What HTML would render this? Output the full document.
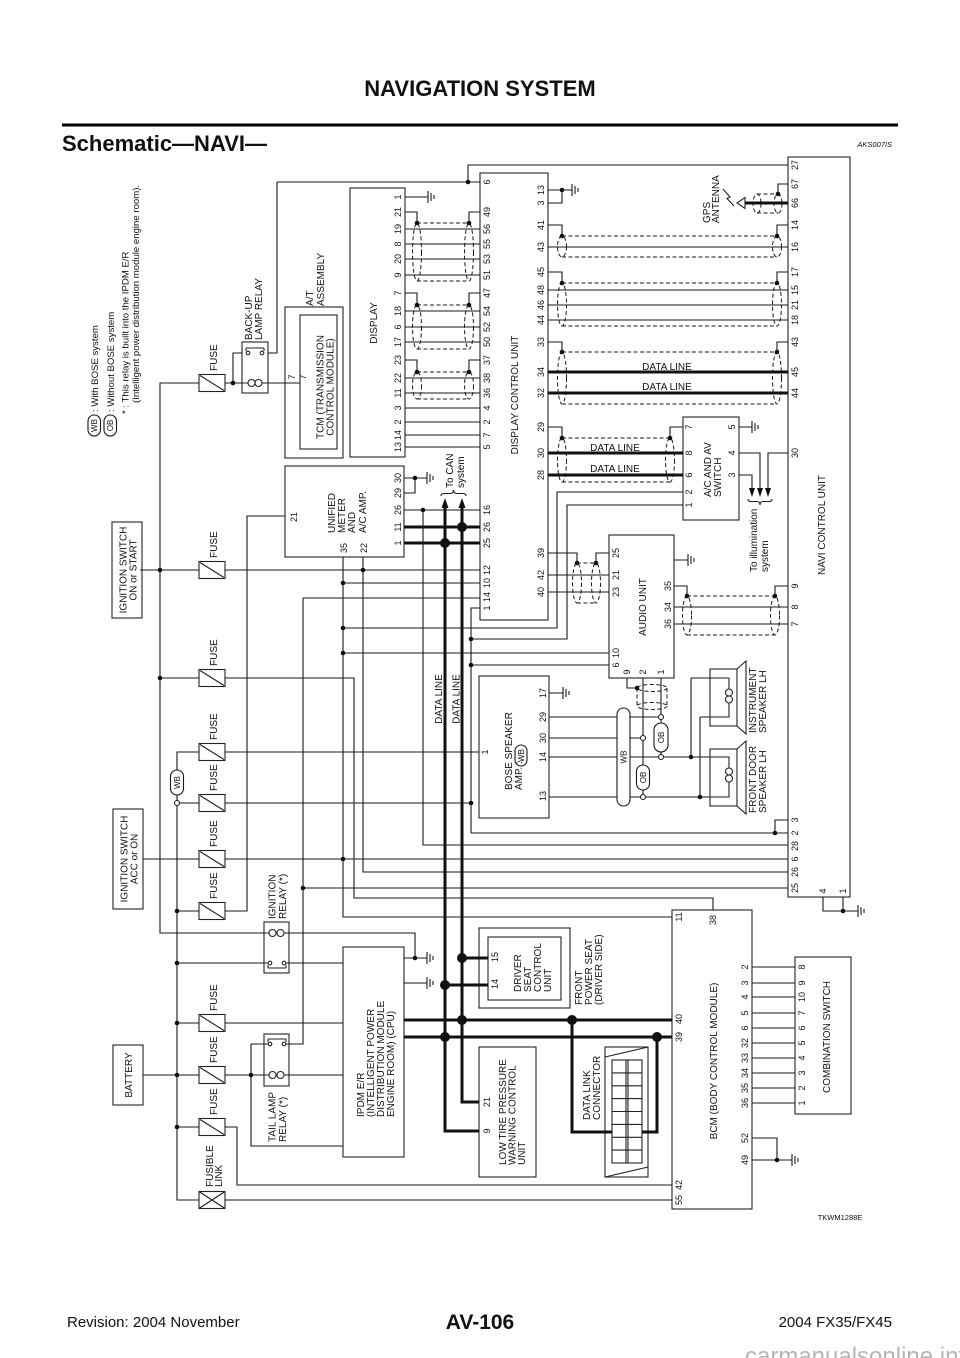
<!DOCTYPE html>
<html><head><meta charset="utf-8"><title>Schematic NAVI</title>
<style>
html,body{margin:0;padding:0;background:#fff;}
svg{display:block;}
text{font-family:"Liberation Sans","DejaVu Sans",sans-serif;fill:#111;}
.p text{font-size:9px;text-anchor:middle;}
.m text{font-size:10px;text-anchor:middle;}
.s text{font-size:10px;text-anchor:start;}
.g text{font-size:9.6px;text-anchor:start;}
.o text{font-size:8px;text-anchor:middle;}
</style></head>
<body>
<svg width="960" height="1358" viewBox="0 0 960 1358" xmlns="http://www.w3.org/2000/svg">
<rect x="0" y="0" width="960" height="1358" fill="#fff"/>

<!-- header / footer -->
<text x="480" y="96" font-size="22" font-weight="bold" text-anchor="middle">NAVIGATION SYSTEM</text>
<rect x="62" y="123.5" width="836" height="3" fill="#000"/>
<text x="62" y="151" font-size="22" font-weight="bold">Schematic—NAVI—</text>
<text x="892" y="147" font-size="7.5" font-style="italic" text-anchor="end">AKS007IS</text>
<text x="840" y="1220" font-size="7.5" text-anchor="middle">TKWM1288E</text>
<text x="67" y="1327" font-size="15">Revision: 2004 November</text>
<text x="480" y="1329" font-size="21" font-weight="bold" text-anchor="middle">AV-106</text>
<text x="892" y="1327" font-size="15" text-anchor="end">2004 FX35/FX45</text>
<text x="745" y="1364" font-size="24" style="fill:#b5b5b5">carmanualsonline.info</text>

<!-- boxes -->
<g fill="none" stroke="#222" stroke-width="1.1">
<rect x="788" y="157" width="62" height="740"/>
<rect x="480" y="173" width="68" height="447"/>
<rect x="350" y="188" width="55" height="269"/>
<rect x="285" y="307" width="58" height="151"/>
<rect x="300" y="315" width="37" height="134"/>
<rect x="242" y="342" width="26" height="51"/>
<rect x="285" y="466" width="119" height="91"/>
<rect x="683" y="417" width="56" height="103"/>
<rect x="609" y="535" width="65" height="143"/>
<rect x="479" y="676" width="70" height="142"/>
<rect x="264" y="922" width="25" height="51"/>
<rect x="264" y="1034" width="25" height="52"/>
<rect x="343" y="947" width="61" height="210"/>
<rect x="479" y="928" width="91" height="80"/>
<rect x="488" y="937" width="73" height="63"/>
<rect x="479" y="1047" width="57" height="130"/>
<rect x="605" y="1047" width="43" height="130"/>
<rect x="612" y="1060" width="30" height="103"/>
<rect x="672" y="910" width="80" height="299"/>
<rect x="795" y="957" width="56" height="157"/>
<rect x="112" y="522" width="30" height="96"/>
<rect x="113" y="809" width="30" height="100"/>
<rect x="113" y="1045" width="30" height="60"/>
<!-- data link connector details -->
<path d="M605,1057L648,1047M605,1177L648,1167M626,1060V1163M628,1060V1163M612,1072.9H642M612,1085.8H642M612,1098.6H642M612,1111.5H642M612,1124.4H642M612,1137.3H642M612,1150.1H642"/>
<!-- speakers -->
<rect x="710" y="669" width="27" height="57"/>
<path d="M737,669L746,661V734L737,726"/>
<rect x="710" y="749" width="27" height="57"/>
<path d="M737,749L746,741V814L737,806"/>
<path d="M710,678H729V689M729,703V717H710M710,757H729V768M729,782V797H710"/>
<circle cx="729" cy="692.5" r="3.5"/><circle cx="729" cy="699.5" r="3.5"/>
<circle cx="729" cy="771.5" r="3.5"/><circle cx="729" cy="778.5" r="3.5"/>
<!-- relays -->
<path d="M242,383H248M262,383H268M246,348H264M246,348V351M264,348V351"/>
<circle cx="251.5" cy="383" r="3.5"/><circle cx="258.5" cy="383" r="3.5"/>
<circle cx="248" cy="353" r="1.8"/><circle cx="262" cy="353" r="1.8"/>
<path d="M264,933H269M284,933H289M268,968H286M268,968V965M286,968V965M264,963H268M286,963H289"/>
<circle cx="272.5" cy="933" r="3.5"/><circle cx="280.5" cy="933" r="3.5"/>
<circle cx="270" cy="963" r="1.8"/><circle cx="284" cy="963" r="1.8"/>
<path d="M264,1075H269M284,1075H289M268,1039H286M268,1039V1042M286,1039V1042M264,1044H268M286,1044H289"/>
<circle cx="272.5" cy="1075" r="3.5"/><circle cx="280.5" cy="1075" r="3.5"/>
<circle cx="270" cy="1044" r="1.8"/><circle cx="284" cy="1044" r="1.8"/>
<!-- fuses -->
<rect x="199" y="374.5" width="26" height="17"/><rect x="199" y="561.5" width="26" height="17"/>
<rect x="199" y="669.5" width="26" height="17"/><rect x="199" y="743.5" width="26" height="17"/>
<rect x="199" y="794.5" width="26" height="17"/><rect x="199" y="850.5" width="26" height="17"/>
<rect x="199" y="902.5" width="26" height="17"/><rect x="199" y="1014.5" width="26" height="17"/>
<rect x="199" y="1066.5" width="26" height="17"/><rect x="199" y="1118.5" width="26" height="17"/>
<rect x="199" y="1191.5" width="26" height="17"/>
<path d="M200,375.5L224,390.5M200,562.5L224,577.5M200,670.5L224,685.5M200,744.5L224,759.5M200,795.5L224,810.5M200,851.5L224,866.5M200,903.5L224,918.5M200,1015.5L224,1030.5M200,1067.5L224,1082.5M200,1119.5L224,1134.5M199,1191.5L225,1208.5M225,1191.5L199,1208.5"/>
<!-- antenna -->
<polygon points="737,203 745,197.5 745,208.5"/>
<path d="M723,189L730,197L727,198.5L734,206"/>
</g>

<!-- thin wires -->
<g fill="none" stroke="#1a1a1a" stroke-width="1.1">
<path d="M468,182V165H788M277,182H480M277,182V353H268M225,383H242M233,383V353H242M268,383H300M405,197H428
M405,229H480M405,244H480M405,259H480M405,275H480M405,311H480M405,327H480M405,342H480M405,378H480M405,393H480M405,408H480M405,422H480M405,435H480M405,447H480
M405,212H417V223M480,212H469V223M405,293H417V305M480,293H469V305M405,360H417V372M480,360H469V372
M548,190H572M548,203H562V190M548,225H562V236M788,225H777V236M548,247H788M548,272H562V283M788,272H777V283
M548,290H788M548,305H788M548,320H788M548,342H562V352M788,342H777V352M548,427H562V438M683,427H670V438
M739,427H752M739,453H760V489M739,475H752V489M788,453H768V489M788,184H778V194
M548,553H577V563M609,553H596V563M548,575H609M548,592H609M674,560H688
M674,586H687V596M788,586H775V596M674,607H788M674,624H788
M627,678V688H637M643,678V735.5M643,740.5V765M643,790V794.5M661,678V714.5M661,719.5V723M661,752V754.5
M549,693H563M549,717H658.5M549,738H640.5M549,757H658.5M663.5,757H710M549,797H640.5M645.5,797H710
M691,678V757M691,678H710M700,717V797M700,717H710M225,752H479
M788,820H775V833M471,833H788M423,510V845H788M225,859H788M363,557V872H788M303,888H788
M823,897V911H858M843,897V911M404,478H427M404,493H415V478M404,510H480
M285,516H247V911H225M343,557V917H672M225,570H480M343,583H480M225,678H354V898H713V910
M303,598H480M303,598V1044H289M480,608H471V833M343,628H557V492H683M471,639H567V505H683
M343,653H609M471,665H609M225,803H471
M199,383H160V933H264M140,570H199M160,678H199M143,859H199
M199,752H177V770M177,795V800.5M177,805.5V1200H199M179.5,803H199
M177,911H199M177,963H264M289,963H343M177,1023H199M225,1023H343
M143,1075H199M225,1075H264M251,1044V1146H343M251,1044H264M289,1075H343
M177,1127H199M225,1127H237V1185H672M225,1200H672M289,933H415V958M404,958H427M404,983H427
M752,967H795M752,983H795M752,997H795M752,1013H795M752,1028H795M752,1043H795M752,1058H795M752,1073H795M752,1088H795M752,1103H795
M752,1138H777V1160M752,1160H792"/>
<!-- grounds -->
<path d="M428,191V203M431,193V201M434,195V199M572,184V196M575,186V194M578,188V192M752,421V433M755,423V431M758,425V429M688,554V566M691,556V564M694,558V562M563,687V699M566,689V697M569,691V695M427,472V484M430,474V482M433,476V480M858,905V917M861,907V915M864,909V913M427,952V964M430,954V962M433,956V960M427,977V989M430,979V987M433,981V985M792,1154V1166M795,1156V1164M798,1158V1162"/>
<!-- braces -->
<path d="M441,496Q441,493.5 444,493.5H450Q453.5,493.5 453.5,490Q453.5,493.5 457,493.5H463Q466,493.5 466,496"/>
<path d="M748,499Q748,501.5 751,501.5H757Q760,501.5 760,505Q760,501.5 763,501.5H769Q772,501.5 772,499"/>
</g>

<!-- shields -->
<g fill="none" stroke="#1a1a1a" stroke-width="1" stroke-dasharray="4 2.5">
<path d="M417,223H469M417,281H469M417,305H469M417,349H469M417,372H469M417,399H469M562,236H777M562,257H777M562,283H777M562,326H777M562,352H777M562,404H777M562,438H670M562,482H670M757,194H778M757,213H778M577,563H596M577,603H596M687,596H775M687,635H775M637,688V706M667,688V706"/>
<ellipse cx="417" cy="252" rx="4.5" ry="29"/><ellipse cx="469" cy="252" rx="4.5" ry="29"/>
<ellipse cx="417" cy="327" rx="4.5" ry="22"/><ellipse cx="469" cy="327" rx="4.5" ry="22"/>
<ellipse cx="417" cy="385.5" rx="4.5" ry="13.5"/><ellipse cx="469" cy="385.5" rx="4.5" ry="13.5"/>
<ellipse cx="562" cy="246.5" rx="4.5" ry="10.5"/><ellipse cx="777" cy="246.5" rx="4.5" ry="10.5"/>
<ellipse cx="562" cy="304.5" rx="4.5" ry="21.5"/><ellipse cx="777" cy="304.5" rx="4.5" ry="21.5"/>
<ellipse cx="562" cy="378" rx="4.5" ry="26"/><ellipse cx="777" cy="378" rx="4.5" ry="26"/>
<ellipse cx="562" cy="460" rx="4.5" ry="22"/><ellipse cx="670" cy="460" rx="4.5" ry="22"/>
<ellipse cx="757" cy="203.5" rx="4" ry="9.5"/><ellipse cx="778" cy="203.5" rx="4" ry="9.5"/>
<ellipse cx="577" cy="583" rx="4.5" ry="20"/><ellipse cx="596" cy="583" rx="4.5" ry="20"/>
<ellipse cx="687" cy="615.5" rx="4.5" ry="19.5"/><ellipse cx="775" cy="615.5" rx="4.5" ry="19.5"/>
<ellipse cx="652" cy="688" rx="15" ry="3.5"/><ellipse cx="652" cy="706" rx="15" ry="3.5"/>
</g>

<!-- thick data lines -->
<g fill="none" stroke="#111" stroke-width="3">
<path d="M548,372H788M548,393H788M548,453H683M548,475H683M745,203H788M404,527H480M404,543H480
M445,506V1131H479M462,506V1102H479M404,1020H672M404,1037H672M462,958H488M445,985H488
M572,1020V1132H612M657,1037V1132H642"/>
</g>
<g fill="#111">
<polygon points="445,498 441.5,508 448.5,508"/><polygon points="462,498 458.5,508 465.5,508"/>
<polygon points="752,497 749,488 755,488"/><polygon points="760,497 757,488 763,488"/><polygon points="768,497 765,488 771,488"/>
<circle cx="462" cy="527" r="5"/><circle cx="445" cy="543" r="5"/><circle cx="462" cy="958" r="5"/><circle cx="445" cy="985" r="5"/>
<circle cx="462" cy="1020" r="5"/><circle cx="445" cy="1037" r="5"/><circle cx="572" cy="1020" r="5"/><circle cx="657" cy="1037" r="5"/>
<circle cx="468" cy="182" r="2.3"/><circle cx="233" cy="383" r="2.3"/><circle cx="417" cy="223" r="2.3"/><circle cx="469" cy="223" r="2.3"/>
<circle cx="417" cy="305" r="2.3"/><circle cx="469" cy="305" r="2.3"/><circle cx="417" cy="372" r="2.3"/><circle cx="469" cy="372" r="2.3"/>
<circle cx="562" cy="190" r="2.3"/><circle cx="562" cy="236" r="2.3"/><circle cx="777" cy="236" r="2.3"/><circle cx="562" cy="283" r="2.3"/>
<circle cx="777" cy="283" r="2.3"/><circle cx="562" cy="352" r="2.3"/><circle cx="777" cy="352" r="2.3"/><circle cx="562" cy="438" r="2.3"/>
<circle cx="670" cy="438" r="2.3"/><circle cx="778" cy="194" r="2.3"/><circle cx="577" cy="563" r="2.3"/><circle cx="596" cy="563" r="2.3"/>
<circle cx="687" cy="596" r="2.3"/><circle cx="775" cy="596" r="2.3"/><circle cx="637" cy="688" r="2.3"/><circle cx="691" cy="757" r="2.3"/>
<circle cx="700" cy="797" r="2.3"/><circle cx="775" cy="833" r="2.3"/><circle cx="843" cy="911" r="2.3"/><circle cx="415" cy="478" r="2.3"/>
<circle cx="423" cy="510" r="2.3"/><circle cx="363" cy="570" r="2.3"/><circle cx="343" cy="583" r="2.3"/><circle cx="343" cy="628" r="2.3"/>
<circle cx="343" cy="653" r="2.3"/><circle cx="471" cy="639" r="2.3"/><circle cx="471" cy="665" r="2.3"/><circle cx="471" cy="803" r="2.3"/>
<circle cx="343" cy="859" r="2.3"/><circle cx="303" cy="888" r="2.3"/><circle cx="160" cy="570" r="2.3"/><circle cx="160" cy="678" r="2.3"/>
<circle cx="177" cy="911" r="2.3"/><circle cx="177" cy="963" r="2.3"/><circle cx="177" cy="1023" r="2.3"/><circle cx="177" cy="1075" r="2.3"/>
<circle cx="177" cy="1127" r="2.3"/><circle cx="251" cy="1075" r="2.3"/><circle cx="415" cy="958" r="2.3"/><circle cx="777" cy="1160" r="2.3"/>
</g>

<!-- ovals and open circles -->
<g fill="#fff" stroke="#1a1a1a" stroke-width="1.1">
<rect x="88" y="415" width="12.5" height="21" rx="6.2"/>
<rect x="104" y="415" width="12.5" height="21" rx="6.2"/>
<rect x="170.5" y="770" width="13" height="25" rx="6.5"/>
<rect x="515" y="745" width="12" height="21" rx="6"/>
<rect x="617" y="708" width="13" height="98" rx="6.5"/>
<rect x="654" y="723" width="14" height="29" rx="7"/>
<rect x="636.5" y="765" width="13" height="25" rx="6.5"/>
<circle cx="177" cy="803" r="2.5"/><circle cx="661" cy="717" r="2.5"/><circle cx="643" cy="738" r="2.5"/>
<circle cx="661" cy="757" r="2.5"/><circle cx="643" cy="797" r="2.5"/>
</g>
<g class="o">
<text transform="rotate(-90 97 425.5)" x="97" y="425.5">WB</text>
<text transform="rotate(-90 113 425.5)" x="113" y="425.5">OB</text>
<text transform="rotate(-90 179.8 782.5)" x="179.8" y="782.5">WB</text>
<text transform="rotate(-90 523.8 755.5)" x="523.8" y="755.5">WB</text>
<text transform="rotate(-90 626.5 757)" x="626.5" y="757">WB</text>
<text transform="rotate(-90 663.8 737.5)" x="663.8" y="737.5">OB</text>
<text transform="rotate(-90 645.8 777.5)" x="645.8" y="777.5">OB</text>
</g>

<!-- legend -->
<g class="g">
<text transform="rotate(-90 98 412)" x="98" y="412">: With BOSE system</text>
<text transform="rotate(-90 114 412)" x="114" y="412">: Without BOSE system</text>
<text transform="rotate(-90 128.5 414)" x="128.5" y="414">* : This relay is built into the IPDM E/R</text>
<text transform="rotate(-90 139 403)" x="139" y="403">(Intelligent power distribution module engine room).</text>
</g>

<!-- start-anchored labels -->
<g class="s">
<text transform="rotate(-90 252 340)" x="252" y="340">BACK-UP</text>
<text transform="rotate(-90 262 340)" x="262" y="340">LAMP RELAY</text>
<text transform="rotate(-90 313 306)" x="313" y="306">A/T</text>
<text transform="rotate(-90 324 306)" x="324" y="306">ASSEMBLY</text>
<text transform="rotate(-90 335 533)" x="335" y="533">UNIFIED</text>
<text transform="rotate(-90 345 533)" x="345" y="533">METER</text>
<text transform="rotate(-90 355 533)" x="355" y="533">AND</text>
<text transform="rotate(-90 366 533)" x="366" y="533">A/C AMP.</text>
<text transform="rotate(-90 453 488)" x="453" y="488">To CAN</text>
<text transform="rotate(-90 464 488)" x="464" y="488">system</text>
<text transform="rotate(-90 711 497)" x="711" y="497">A/C AND AV</text>
<text transform="rotate(-90 721 497)" x="721" y="497">SWITCH</text>
<text transform="rotate(-90 710 223)" x="710" y="223">GPS</text>
<text transform="rotate(-90 719 223)" x="719" y="223">ANTENNA</text>
<text transform="rotate(-90 757 572)" x="757" y="572">To illumination</text>
<text transform="rotate(-90 768 572)" x="768" y="572">system</text>
<text transform="rotate(-90 512 790)" x="512" y="790">BOSE SPEAKER</text>
<text transform="rotate(-90 522 790)" x="522" y="790">AMP. :</text>
<text transform="rotate(-90 756 733)" x="756" y="733">INSTRUMENT</text>
<text transform="rotate(-90 766 733)" x="766" y="733">SPEAKER LH</text>
<text transform="rotate(-90 756 813)" x="756" y="813">FRONT DOOR</text>
<text transform="rotate(-90 766 813)" x="766" y="813">SPEAKER LH</text>
<text transform="rotate(-90 275.5 919)" x="275.5" y="919">IGNITION</text>
<text transform="rotate(-90 286 919)" x="286" y="919">RELAY (*)</text>
<text transform="rotate(-90 275.5 1142)" x="275.5" y="1142">TAIL LAMP</text>
<text transform="rotate(-90 286 1142)" x="286" y="1142">RELAY (*)</text>
<text transform="rotate(-90 364 1117)" x="364" y="1117">IPDM E/R</text>
<text transform="rotate(-90 374 1117)" x="374" y="1117">(INTELLIGENT POWER</text>
<text transform="rotate(-90 384 1117)" x="384" y="1117">DISTRIBUTION MODULE</text>
<text transform="rotate(-90 394 1117)" x="394" y="1117">ENGINE ROOM) (CPU)</text>
<text transform="rotate(-90 213 1187)" x="213" y="1187">FUSIBLE</text>
<text transform="rotate(-90 222 1187)" x="222" y="1187">LINK</text>
<text transform="rotate(-90 506 1165)" x="506" y="1165">LOW TIRE PRESSURE</text>
<text transform="rotate(-90 515.5 1165)" x="515.5" y="1165">WARNING CONTROL</text>
<text transform="rotate(-90 525 1165)" x="525" y="1165">UNIT</text>
<text transform="rotate(-90 521 992)" x="521" y="992">DRIVER</text>
<text transform="rotate(-90 531 992)" x="531" y="992">SEAT</text>
<text transform="rotate(-90 541 992)" x="541" y="992">CONTROL</text>
<text transform="rotate(-90 551 992)" x="551" y="992">UNIT</text>
<text transform="rotate(-90 582 1005)" x="582" y="1005">FRONT</text>
<text transform="rotate(-90 592 1005)" x="592" y="1005">POWER SEAT</text>
<text transform="rotate(-90 602 1005)" x="602" y="1005">(DRIVER SIDE)</text>
<text transform="rotate(-90 590 1120)" x="590" y="1120">DATA LINK</text>
<text transform="rotate(-90 600 1120)" x="600" y="1120">CONNECTOR</text>
<text transform="rotate(-90 217 371)" x="217" y="371">FUSE</text>
<text transform="rotate(-90 217 558)" x="217" y="558">FUSE</text>
<text transform="rotate(-90 217 666)" x="217" y="666">FUSE</text>
<text transform="rotate(-90 217 740)" x="217" y="740">FUSE</text>
<text transform="rotate(-90 217 791)" x="217" y="791">FUSE</text>
<text transform="rotate(-90 217 847)" x="217" y="847">FUSE</text>
<text transform="rotate(-90 217 899)" x="217" y="899">FUSE</text>
<text transform="rotate(-90 217 1011)" x="217" y="1011">FUSE</text>
<text transform="rotate(-90 217 1063)" x="217" y="1063">FUSE</text>
<text transform="rotate(-90 217 1115)" x="217" y="1115">FUSE</text>
</g>

<!-- centered labels -->
<g class="m">
<text transform="rotate(-90 377 323)" x="377" y="323">DISPLAY</text>
<text transform="rotate(-90 323.5 387)" x="323.5" y="387">TCM (TRANSMISSION</text>
<text transform="rotate(-90 333.5 387)" x="333.5" y="387">CONTROL MODULE)</text>
<text transform="rotate(-90 518 395)" x="518" y="395">DISPLAY CONTROL UNIT</text>
<text transform="rotate(-90 825 525)" x="825" y="525">NAVI CONTROL UNIT</text>
<text transform="rotate(-90 646 607)" x="646" y="607">AUDIO UNIT</text>
<text transform="rotate(-90 442 699)" x="442" y="699">DATA LINE</text>
<text transform="rotate(-90 459.5 699)" x="459.5" y="699">DATA LINE</text>
<text transform="rotate(-90 717 1061)" x="717" y="1061">BCM (BODY CONTROL MODULE)</text>
<text transform="rotate(-90 830 1037)" x="830" y="1037">COMBINATION SWITCH</text>
<text transform="rotate(-90 126.5 570)" x="126.5" y="570">IGNITION SWITCH</text>
<text transform="rotate(-90 136.5 570)" x="136.5" y="570">ON or START</text>
<text transform="rotate(-90 127.5 859)" x="127.5" y="859">IGNITION SWITCH</text>
<text transform="rotate(-90 137.5 859)" x="137.5" y="859">ACC or ON</text>
<text transform="rotate(-90 132 1075)" x="132" y="1075">BATTERY</text>
<text x="667" y="370">DATA LINE</text>
<text x="667" y="390">DATA LINE</text>
<text x="615" y="451">DATA LINE</text>
<text x="615" y="472">DATA LINE</text>
</g>

<!-- pin numbers -->
<g class="p">
<!-- display -->
<text transform="rotate(-90 401 197)" x="401" y="197">1</text>
<text transform="rotate(-90 401 212)" x="401" y="212">21</text>
<text transform="rotate(-90 401 229)" x="401" y="229">19</text>
<text transform="rotate(-90 401 244)" x="401" y="244">8</text>
<text transform="rotate(-90 401 259)" x="401" y="259">20</text>
<text transform="rotate(-90 401 275)" x="401" y="275">9</text>
<text transform="rotate(-90 401 293)" x="401" y="293">7</text>
<text transform="rotate(-90 401 311)" x="401" y="311">18</text>
<text transform="rotate(-90 401 327)" x="401" y="327">6</text>
<text transform="rotate(-90 401 342)" x="401" y="342">17</text>
<text transform="rotate(-90 401 360)" x="401" y="360">23</text>
<text transform="rotate(-90 401 378)" x="401" y="378">22</text>
<text transform="rotate(-90 401 393)" x="401" y="393">11</text>
<text transform="rotate(-90 401 408)" x="401" y="408">3</text>
<text transform="rotate(-90 401 422)" x="401" y="422">2</text>
<text transform="rotate(-90 401 435)" x="401" y="435">14</text>
<text transform="rotate(-90 401 447)" x="401" y="447">13</text>
<!-- DCU left -->
<text transform="rotate(-90 490 182)" x="490" y="182">6</text>
<text transform="rotate(-90 490 212)" x="490" y="212">49</text>
<text transform="rotate(-90 490 229)" x="490" y="229">56</text>
<text transform="rotate(-90 490 244)" x="490" y="244">55</text>
<text transform="rotate(-90 490 259)" x="490" y="259">53</text>
<text transform="rotate(-90 490 275)" x="490" y="275">51</text>
<text transform="rotate(-90 490 293)" x="490" y="293">47</text>
<text transform="rotate(-90 490 311)" x="490" y="311">54</text>
<text transform="rotate(-90 490 327)" x="490" y="327">52</text>
<text transform="rotate(-90 490 342)" x="490" y="342">50</text>
<text transform="rotate(-90 490 360)" x="490" y="360">37</text>
<text transform="rotate(-90 490 378)" x="490" y="378">38</text>
<text transform="rotate(-90 490 393)" x="490" y="393">36</text>
<text transform="rotate(-90 490 408)" x="490" y="408">4</text>
<text transform="rotate(-90 490 422)" x="490" y="422">2</text>
<text transform="rotate(-90 490 435)" x="490" y="435">7</text>
<text transform="rotate(-90 490 447)" x="490" y="447">5</text>
<text transform="rotate(-90 490 510)" x="490" y="510">16</text>
<text transform="rotate(-90 490 527)" x="490" y="527">26</text>
<text transform="rotate(-90 490 543)" x="490" y="543">25</text>
<text transform="rotate(-90 490 570)" x="490" y="570">12</text>
<text transform="rotate(-90 490 583)" x="490" y="583">10</text>
<text transform="rotate(-90 490 597)" x="490" y="597">14</text>
<text transform="rotate(-90 490 608)" x="490" y="608">1</text>
<!-- DCU right -->
<text transform="rotate(-90 544 190)" x="544" y="190">13</text>
<text transform="rotate(-90 544 203)" x="544" y="203">3</text>
<text transform="rotate(-90 544 225)" x="544" y="225">41</text>
<text transform="rotate(-90 544 247)" x="544" y="247">43</text>
<text transform="rotate(-90 544 272)" x="544" y="272">45</text>
<text transform="rotate(-90 544 290)" x="544" y="290">48</text>
<text transform="rotate(-90 544 305)" x="544" y="305">46</text>
<text transform="rotate(-90 544 320)" x="544" y="320">44</text>
<text transform="rotate(-90 544 342)" x="544" y="342">33</text>
<text transform="rotate(-90 544 372)" x="544" y="372">34</text>
<text transform="rotate(-90 544 393)" x="544" y="393">32</text>
<text transform="rotate(-90 544 427)" x="544" y="427">29</text>
<text transform="rotate(-90 544 453)" x="544" y="453">30</text>
<text transform="rotate(-90 544 475)" x="544" y="475">28</text>
<text transform="rotate(-90 544 553)" x="544" y="553">39</text>
<text transform="rotate(-90 544 575)" x="544" y="575">42</text>
<text transform="rotate(-90 544 592)" x="544" y="592">40</text>
<!-- NAVI -->
<text transform="rotate(-90 798 165)" x="798" y="165">27</text>
<text transform="rotate(-90 798 184)" x="798" y="184">67</text>
<text transform="rotate(-90 798 203)" x="798" y="203">66</text>
<text transform="rotate(-90 798 225)" x="798" y="225">14</text>
<text transform="rotate(-90 798 247)" x="798" y="247">16</text>
<text transform="rotate(-90 798 272)" x="798" y="272">17</text>
<text transform="rotate(-90 798 290)" x="798" y="290">15</text>
<text transform="rotate(-90 798 305)" x="798" y="305">21</text>
<text transform="rotate(-90 798 320)" x="798" y="320">18</text>
<text transform="rotate(-90 798 342)" x="798" y="342">43</text>
<text transform="rotate(-90 798 372)" x="798" y="372">45</text>
<text transform="rotate(-90 798 393)" x="798" y="393">44</text>
<text transform="rotate(-90 798 453)" x="798" y="453">30</text>
<text transform="rotate(-90 798 586)" x="798" y="586">9</text>
<text transform="rotate(-90 798 607)" x="798" y="607">8</text>
<text transform="rotate(-90 798 624)" x="798" y="624">7</text>
<text transform="rotate(-90 798 820)" x="798" y="820">3</text>
<text transform="rotate(-90 798 833)" x="798" y="833">2</text>
<text transform="rotate(-90 798 846)" x="798" y="846">28</text>
<text transform="rotate(-90 798 859)" x="798" y="859">6</text>
<text transform="rotate(-90 798 872)" x="798" y="872">26</text>
<text transform="rotate(-90 798 888)" x="798" y="888">25</text>
<text transform="rotate(-90 826 891)" x="826" y="891">4</text>
<text transform="rotate(-90 846 891)" x="846" y="891">1</text>
<!-- A/C AV switch -->
<text transform="rotate(-90 692 427)" x="692" y="427">7</text>
<text transform="rotate(-90 692 453)" x="692" y="453">8</text>
<text transform="rotate(-90 692 475)" x="692" y="475">6</text>
<text transform="rotate(-90 692 492)" x="692" y="492">2</text>
<text transform="rotate(-90 692 505)" x="692" y="505">1</text>
<text transform="rotate(-90 735 427)" x="735" y="427">5</text>
<text transform="rotate(-90 735 453)" x="735" y="453">4</text>
<text transform="rotate(-90 735 475)" x="735" y="475">3</text>
<!-- audio -->
<text transform="rotate(-90 619 553)" x="619" y="553">25</text>
<text transform="rotate(-90 619 575)" x="619" y="575">21</text>
<text transform="rotate(-90 619 592)" x="619" y="592">23</text>
<text transform="rotate(-90 619 653)" x="619" y="653">10</text>
<text transform="rotate(-90 619 665)" x="619" y="665">6</text>
<text transform="rotate(-90 671 586)" x="671" y="586">35</text>
<text transform="rotate(-90 671 607)" x="671" y="607">34</text>
<text transform="rotate(-90 671 624)" x="671" y="624">36</text>
<text transform="rotate(-90 630 672)" x="630" y="672">9</text>
<text transform="rotate(-90 646 672)" x="646" y="672">2</text>
<text transform="rotate(-90 664 672)" x="664" y="672">1</text>
<!-- BOSE -->
<text transform="rotate(-90 488 752)" x="488" y="752">1</text>
<text transform="rotate(-90 546 693)" x="546" y="693">17</text>
<text transform="rotate(-90 546 717)" x="546" y="717">29</text>
<text transform="rotate(-90 546 738)" x="546" y="738">30</text>
<text transform="rotate(-90 546 757)" x="546" y="757">14</text>
<text transform="rotate(-90 546 796)" x="546" y="796">13</text>
<!-- meter / TCM -->
<text transform="rotate(-90 297 517)" x="297" y="517">21</text>
<text transform="rotate(-90 347 548)" x="347" y="548">35</text>
<text transform="rotate(-90 367 548)" x="367" y="548">22</text>
<text transform="rotate(-90 401 478)" x="401" y="478">30</text>
<text transform="rotate(-90 401 493)" x="401" y="493">29</text>
<text transform="rotate(-90 401 510)" x="401" y="510">26</text>
<text transform="rotate(-90 401 527)" x="401" y="527">11</text>
<text transform="rotate(-90 401 543)" x="401" y="543">1</text>
<text transform="rotate(-90 295 377)" x="295" y="377">7</text>
<text transform="rotate(-90 306 377)" x="306" y="377">7</text>
<!-- BCM -->
<text transform="rotate(-90 682 917)" x="682" y="917">11</text>
<text transform="rotate(-90 682 1019)" x="682" y="1019">40</text>
<text transform="rotate(-90 682 1037)" x="682" y="1037">39</text>
<text transform="rotate(-90 682 1185)" x="682" y="1185">42</text>
<text transform="rotate(-90 682 1200)" x="682" y="1200">55</text>
<text transform="rotate(-90 716 920)" x="716" y="920">38</text>
<text transform="rotate(-90 748 967)" x="748" y="967">2</text>
<text transform="rotate(-90 748 983)" x="748" y="983">3</text>
<text transform="rotate(-90 748 997)" x="748" y="997">4</text>
<text transform="rotate(-90 748 1013)" x="748" y="1013">5</text>
<text transform="rotate(-90 748 1028)" x="748" y="1028">6</text>
<text transform="rotate(-90 748 1043)" x="748" y="1043">32</text>
<text transform="rotate(-90 748 1058)" x="748" y="1058">33</text>
<text transform="rotate(-90 748 1073)" x="748" y="1073">34</text>
<text transform="rotate(-90 748 1088)" x="748" y="1088">35</text>
<text transform="rotate(-90 748 1103)" x="748" y="1103">36</text>
<text transform="rotate(-90 748 1138)" x="748" y="1138">52</text>
<text transform="rotate(-90 748 1160)" x="748" y="1160">49</text>
<!-- combination switch -->
<text transform="rotate(-90 805 967)" x="805" y="967">8</text>
<text transform="rotate(-90 805 983)" x="805" y="983">9</text>
<text transform="rotate(-90 805 997)" x="805" y="997">10</text>
<text transform="rotate(-90 805 1013)" x="805" y="1013">7</text>
<text transform="rotate(-90 805 1028)" x="805" y="1028">6</text>
<text transform="rotate(-90 805 1043)" x="805" y="1043">5</text>
<text transform="rotate(-90 805 1058)" x="805" y="1058">4</text>
<text transform="rotate(-90 805 1073)" x="805" y="1073">3</text>
<text transform="rotate(-90 805 1088)" x="805" y="1088">2</text>
<text transform="rotate(-90 805 1103)" x="805" y="1103">1</text>
<!-- low tire / driver seat -->
<text transform="rotate(-90 490 1102)" x="490" y="1102">21</text>
<text transform="rotate(-90 490 1131)" x="490" y="1131">9</text>
<text transform="rotate(-90 498 957)" x="498" y="957">15</text>
<text transform="rotate(-90 498 984)" x="498" y="984">14</text>
</g>
</svg>
</body></html>
